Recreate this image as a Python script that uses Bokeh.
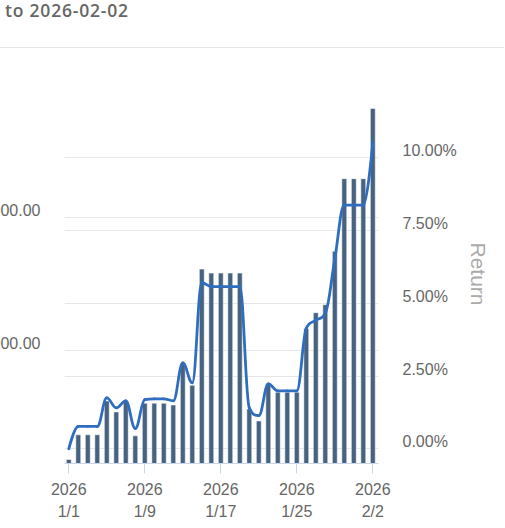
import numpy as np
from bokeh.plotting import figure
from bokeh.models import (Range1d, LinearAxis, FixedTicker, Grid, NumeralTickFormatter,
                          PrintfTickFormatter, Div)
from bokeh.layouts import column
from bokeh.embed import file_html
from bokeh.resources import INLINE

# ---------------- data ----------------
title_text = "to 2026-02-02"
year = "2026"
dates = ["1/1", "1/2", "1/3", "1/4", "1/5", "1/6", "1/7", "1/8", "1/9", "1/10",
         "1/11", "1/12", "1/13", "1/14", "1/15", "1/16", "1/17", "1/18", "1/19", "1/20",
         "1/21", "1/22", "1/23", "1/24", "1/25", "1/26", "1/27", "1/28", "1/29", "1/30",
         "1/31", "2/1", "2/2"]
values = [12590, 12683, 12683, 12683, 12810, 12769, 12810, 12679, 12802, 12802,
          12802, 12795, 12951, 12869, 13306, 13291, 13291, 13291, 13291, 12780,
          12735, 12877, 12843, 12843, 12843, 13082, 13142, 13172, 13373, 13646,
          13646, 13646, 13910]
returns = [0.00, 0.77, 0.77, 0.77, 1.75, 1.41, 1.65, 0.70, 1.69, 1.72,
           1.72, 1.65, 2.95, 2.27, 5.70, 5.57, 5.57, 5.57, 5.57, 1.41,
           1.14, 2.23, 1.99, 1.99, 1.99, 4.14, 4.41, 4.65, 6.52, 8.36,
           8.36, 8.36, 10.51]
value_ticks = [13000, 13500]
value_grid = [13000, 13500, 14000]
return_ticks = [0, 2.5, 5, 7.5, 10]
return_grid = [0, 2.5, 5, 7.5, 10, 12.5]
x_label_idx = [0, 8, 16, 24, 32]

# ---------------- ranges ----------------
v_lo, v_hi = 12575, 14000
r_lo, r_hi = -0.5, 12.5
frame_h = 382
v_shift = 8 * (v_hi - v_lo) / frame_h
r_shift = 7 * (r_hi - r_lo) / frame_h

n = len(dates)
xs = np.arange(n, dtype=float)
ys = np.array(returns, dtype=float)

# Highcharts-style spline control points (smoothing 1.5)
s, den = 1.5, 2.5
lx, ly, rx, ry = xs.copy(), ys.copy(), xs.copy(), ys.copy()
for i in range(1, n - 1):
    px, py = xs[i], ys[i]
    pX, pY = xs[i - 1], ys[i - 1]
    nX, nY = xs[i + 1], ys[i + 1]
    lcx = (s * px + pX) / den
    lcy = (s * py + pY) / den
    rcx = (s * px + nX) / den
    rcy = (s * py + nY) / den
    corr = 0.0
    if rcx != lcx:
        corr = ((rcy - lcy) * (rcx - px)) / (rcx - lcx) + py - rcy
    lcy += corr
    rcy += corr
    if lcy > pY and lcy > py:
        lcy = max(pY, py); rcy = 2 * py - lcy
    elif lcy < pY and lcy < py:
        lcy = min(pY, py); rcy = 2 * py - lcy
    if rcy > nY and rcy > py:
        rcy = max(nY, py); lcy = 2 * py - rcy
    elif rcy < nY and rcy < py:
        rcy = min(nY, py); lcy = 2 * py - rcy
    lx[i], ly[i], rx[i], ry[i] = lcx, lcy, rcx, rcy

p = figure(width=540, height=474,
           x_range=Range1d(-0.45, 32.6), y_range=Range1d(v_lo, v_hi),
           output_backend="svg", toolbar_location=None,
           y_axis_location=None,
           min_border_left=100, min_border_right=126,
           min_border_top=36, min_border_bottom=56)
p.outline_line_color = None
p.background_fill_color = "white"
p.border_fill_color = "white"
p.xgrid.visible = False
p.ygrid.visible = False

p.extra_y_ranges = {
    "ret": Range1d(r_lo, r_hi),
    "lbl_left": Range1d(v_lo - v_shift, v_hi - v_shift),
    "lbl_right": Range1d(r_lo - r_shift, r_hi - r_shift),
}

g1 = Grid(dimension=1, ticker=FixedTicker(ticks=value_grid),
          grid_line_color="#e6e6e6", grid_line_width=1)
g2 = Grid(dimension=1, y_range_name="ret", ticker=FixedTicker(ticks=return_grid),
          grid_line_color="#e6e6e6", grid_line_width=1)
p.add_layout(g1)
p.add_layout(g2)

p.vbar(x=xs, top=values, bottom=v_lo, width=0.52,
       fill_color="#476380", line_color="white", line_alpha=0.55, line_width=1)

p.bezier(x0=xs[:-1], y0=ys[:-1], x1=xs[1:], y1=ys[1:],
         cx0=rx[:-1], cy0=ry[:-1], cx1=lx[1:], cy1=ly[1:],
         y_range_name="ret", line_color="#2f6dbf", line_width=2.8, line_cap="round")

# x axis
xa = p.xaxis[0]
xa.ticker = FixedTicker(ticks=x_label_idx)
xa.major_label_overrides = {i: f"{year}\n{dates[i]}" for i in x_label_idx}
xa.axis_line_color = "#ccd6eb"
xa.major_tick_line_color = "#ccd6eb"
xa.minor_tick_line_color = None
xa.major_tick_out = 10
xa.major_tick_in = 0
xa.major_label_standoff = 7
xa.major_label_text_font = "Liberation Sans"
xa.major_label_text_font_size = "16px"
xa.major_label_text_line_height = 1.3
xa.major_label_text_color = "#666666"

common = dict(axis_line_color=None, major_tick_line_color=None, minor_tick_line_color=None,
              major_tick_out=0, major_tick_in=0,
              major_label_text_font="Liberation Sans", major_label_text_font_size="16px",
              major_label_text_color="#666666")

left = LinearAxis(y_range_name="lbl_left", ticker=FixedTicker(ticks=value_ticks),
                  formatter=NumeralTickFormatter(format="0,0.00"),
                  major_label_standoff=24, **common)
p.add_layout(left, "left")

right = LinearAxis(y_range_name="lbl_right", ticker=FixedTicker(ticks=return_ticks),
                   formatter=PrintfTickFormatter(format="%.2f%%"),
                   major_label_standoff=24, axis_label="Return",
                   axis_label_text_font="Liberation Sans", axis_label_text_font_size="21px",
                   axis_label_text_font_style="normal", axis_label_text_color="#aaaaaa",
                   axis_label_standoff=7, **common)
p.add_layout(right, "right")

title_html = (
    '<div style="width:540px;height:48px;box-sizing:border-box;'
    'border-bottom:1px solid #e6e6e6;padding-left:41px;'
    "font-family:'Open Sans';font-weight:600;font-size:17.5px;line-height:20px;"
    f'letter-spacing:0.8px;color:#666666;">{title_text}</div>'
)
head = Div(text=title_html, width=540, height=48, margin=0)

layout = column(head, p, spacing=0, margin=(0, 0, 0, -36))

open("out.html", "w").write(file_html(layout, INLINE))
